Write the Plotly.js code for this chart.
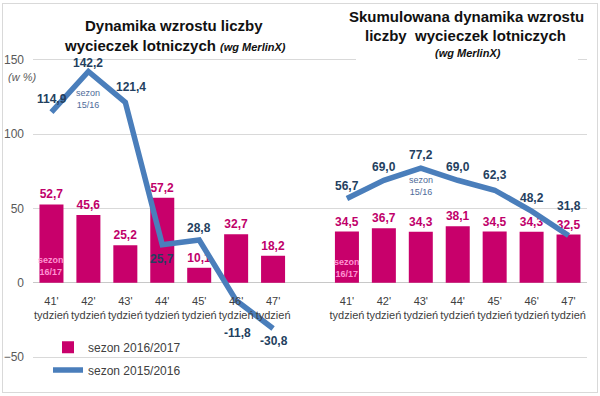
<!DOCTYPE html>
<html>
<head>
<meta charset="utf-8">
<script src="https://cdn.plot.ly/plotly-3.0.1.min.js"></script>
<style>
  html, body { margin: 0; padding: 0; background: #fff; }
  #wrap { position: relative; width: 600px; height: 396px; }
  #chart { position: absolute; left: 0; top: 0; width: 600px; height: 396px; }
  #frame { position: absolute; left: 2px; top: 3px; width: 594px; height: 388px;
           border: 1px solid #d9d9d9; pointer-events: none; }
</style>
</head>
<body>
<div id="wrap"><div id="chart"></div><div id="frame"></div></div>
<script>
// ---- data ----
const weeks = ["41'", "42'", "43'", "44'", "45'", "46'", "47'"];
const weekWord = "tydzień";
const season1617Weekly = [52.7, 45.6, 25.2, 57.2, 10.1, 32.7, 18.2];
const season1516Weekly = [114.9, 142.2, 121.4, 25.7, 28.8, -11.8, -30.8];
const season1617Cum = [34.5, 36.7, 34.3, 38.1, 34.5, 34.3, 32.5];
const season1516Cum = [56.7, 69.0, 77.2, 69.0, 62.3, 48.2, 31.8];
const seriesNames = ["sezon 2016/2017", "sezon 2015/2016"];

// ---- style / label offsets (pixels) ----
const lineLabelShiftLeft = [13, 9, 15, -14, 12, -33, -12];
const lineLabelXShiftLeft = [1, 0, 6, 0, 0, 1, 1];
const lineLabelShiftRight = [13, 13.5, 13, 13.5, 15, 13, 30];

const FONT = "Liberation Sans, Arial, sans-serif";
const BAR = "#c8006b";
const LINE = "#4a7ebb";
const LBL_DARK = "#243f60";
const LBL_MAG = "#c0006a";

const M = {l: 33, r: 13, t: 52, b: 28};
const W = 600, H = 396;
const PW = W - M.l - M.r, PH = H - M.t - M.b;
const R0 = -55.33, R1 = 155.33;
const px = x => (x - M.l) / PW;
const py = y => (H - M.b - y) / PH;

const fmt = v => v.toFixed(1).replace('.', ',');
const gap = weeks.length + 1;
const leftX = weeks.map((_, i) => i);
const rightX = weeks.map((_, i) => i + gap);

const barTrace = {
  type: 'bar',
  x: leftX.concat(rightX),
  y: season1617Weekly.concat(season1617Cum),
  width: 0.65,
  marker: {color: BAR},
  text: season1617Weekly.concat(season1617Cum).map(fmt),
  textposition: 'outside',
  textfont: {family: FONT, size: 12, color: LBL_MAG, weight: 'bold'},
  cliponaxis: false,
  name: seriesNames[0],
  legend: 'legend',
  hoverinfo: 'skip'
};
const lineLeft = {
  type: 'scatter', mode: 'lines',
  x: leftX, y: season1516Weekly,
  line: {color: LINE, width: 5.5},
  name: seriesNames[1], legend: 'legend2',
  cliponaxis: false, hoverinfo: 'skip'
};
const lineRight = {
  type: 'scatter', mode: 'lines',
  x: rightX, y: season1516Cum,
  line: {color: LINE, width: 5.5},
  name: seriesNames[1], showlegend: false,
  cliponaxis: false, hoverinfo: 'skip'
};

const C = {xanchor: 'center', yanchor: 'middle', showarrow: false};
const annotations = [];
season1516Weekly.forEach((v, i) => annotations.push(Object.assign({
  x: leftX[i], y: v, xref: 'x', yref: 'y', text: '<b>' + fmt(v) + '</b>',
  yshift: lineLabelShiftLeft[i], xshift: lineLabelXShiftLeft[i],
  font: {family: FONT, size: 12, color: LBL_DARK}
}, C)));
season1516Cum.forEach((v, i) => annotations.push(Object.assign({
  x: rightX[i], y: v, xref: 'x', yref: 'y', text: '<b>' + fmt(v) + '</b>',
  yshift: lineLabelShiftRight[i],
  font: {family: FONT, size: 12, color: LBL_DARK}
}, C)));
// season notes
[
  {x: leftX[1], y: 124, text: 'sezon<br>15/16', font: {family: FONT, size: 9, color: '#4f6b9a'}},
  {x: rightX[2], y: 65, text: 'sezon<br>15/16', font: {family: FONT, size: 9, color: '#4f6b9a'}},
  {x: leftX[0], y: 11.3, text: '<b>sezon<br>16/17</b>', font: {family: FONT, size: 9, color: '#ff93d2'}},
  {x: rightX[0], y: 10, text: '<b>sezon<br>16/17</b>', font: {family: FONT, size: 9, color: '#ff93d2'}}
].forEach(a => annotations.push(Object.assign({xref: 'x', yref: 'y'}, a, C)));
// titles
[
  {x: px(174), y: py(25), text: '<b>Dynamika wzrostu liczby</b>', font: {family: FONT, size: 15, color: '#111'}},
  {x: px(175), y: py(45),
   text: '<b>wycieczek lotniczych</b> <b><i><span style="font-size:11px">(wg MerlinX)</span></i></b>',
   font: {family: FONT, size: 15, color: '#111'}},
  {x: px(466), y: py(16), text: '<b>Skumulowana dynamika wzrostu</b>', font: {family: FONT, size: 15, color: '#111'}},
  {x: px(465), y: py(35), text: '<b>liczby  wycieczek lotniczych</b>', font: {family: FONT, size: 15, color: '#111'}},
  {x: px(468), y: py(53), text: '<b><i>(wg MerlinX)</i></b>', font: {family: FONT, size: 11, color: '#111'}},
  {x: px(22), y: py(77), text: '<i>(w %)</i>', font: {family: FONT, size: 11, color: '#595959'}}
].forEach(a => annotations.push(Object.assign({xref: 'paper', yref: 'paper'}, a, C)));

const layout = {
  width: W, height: H,
  margin: M,
  paper_bgcolor: '#fff', plot_bgcolor: '#fff',
  font: {family: FONT, size: 12, color: '#404040'},
  showlegend: true,
  xaxis: {
    range: [-0.5, 2 * weeks.length + 0.5],
    tickvals: leftX.concat(rightX),
    ticktext: weeks.concat(weeks).map(w => w + '<br>' + weekWord),
    tickfont: {family: FONT, size: 11, color: '#404040'},
    tickangle: 0,
    showgrid: false, zeroline: false, showline: false,
    ticks: '', anchor: 'free', position: (0 - R0) / (R1 - R0),
    ticklabelstandoff: 10, fixedrange: true
  },
  yaxis: {
    range: [R0, R1],
    tickvals: [-50, 0, 50, 100, 150],
    tickfont: {family: FONT, size: 12, color: '#595959'},
    gridcolor: '#d9d9d9', gridwidth: 1,
    zeroline: true, zerolinecolor: '#c8c8c8', zerolinewidth: 1,
    showline: false, ticks: '', ticklabelstandoff: 8, fixedrange: true
  },
  legend: {x: px(48), y: py(350), xanchor: 'left', yanchor: 'middle',
           bgcolor: 'rgba(0,0,0,0)', font: {family: FONT, size: 12, color: '#404040'},
           itemwidth: 30},
  legend2: {x: px(48), y: py(373), xanchor: 'left', yanchor: 'middle',
           bgcolor: 'rgba(0,0,0,0)', font: {family: FONT, size: 12, color: '#404040'},
           itemwidth: 30},
  shapes: [
    {type: 'rect', xref: 'paper', yref: 'paper', layer: 'above',
     x0: px(356), x1: px(578), y0: py(5), y1: py(66),
     fillcolor: '#fff', line: {width: 0}}
  ],
  annotations: annotations
};

Plotly.newPlot('chart', [barTrace, lineLeft, lineRight], layout,
  {displayModeBar: false, staticPlot: true});
</script>
</body>
</html>
